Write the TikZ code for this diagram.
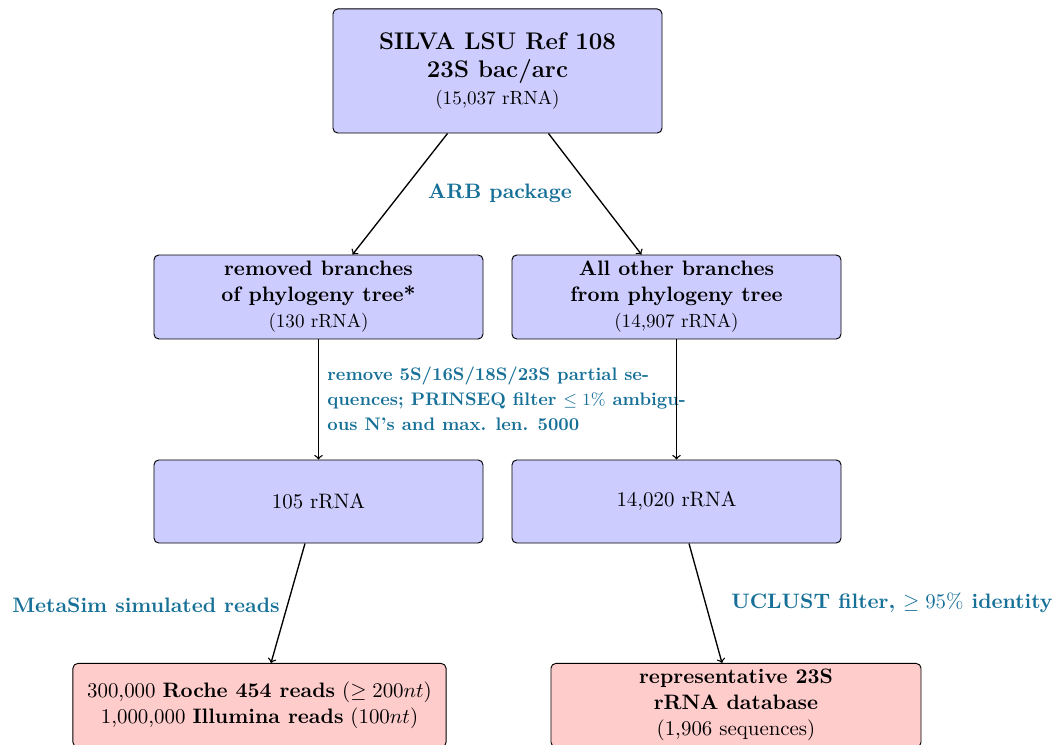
\documentclass[tikz,border=0pt,11pt]{standalone}
\usepackage{amsmath, amssymb}
\usepackage[dvipsnames]{xcolor}
\usepackage{tikz}
\usetikzlibrary{calc}
\definecolor{steplabel}{RGB}{22,112,152}

\begin{document}
\begin{tikzpicture}[x=0.524pt,y=0.524pt,yscale=-1,xscale=1,
  bluebox/.style={draw, fill=blue!20, rounded corners=2.5pt, line width=0.5pt, minimum width=172.4pt, align=center, inner sep=2pt},
  pinkbox/.style={draw, fill=red!20, rounded corners=2.5pt, line width=0.5pt, minimum height=43.8pt, align=center, inner sep=2pt},
  steptext/.style={text=steplabel, font=\bfseries, inner sep=0pt},
  flow/.style={->, line width=0.7pt}]
\useasboundingbox (0,0) rectangle (1059,745);

% Boxes
\node[bluebox, minimum height=65pt, font=\fontsize{12.6}{14.2}\selectfont\bfseries] (silva) at (497.5,71) {SILVA LSU Ref 108\\23S bac/arc\\{\small\mdseries (15,037 rRNA)}};
\node[bluebox, minimum height=44pt, font=\bfseries] (removed) at (318.5,297) {removed branches\\of phylogeny tree*\\{\small\mdseries (130 rRNA)}};
\node[bluebox, minimum height=44pt, font=\bfseries] (others) at (676.5,297) {All other branches\\from phylogeny tree\\{\small\mdseries (14,907 rRNA)}};
\node[bluebox, minimum height=43.5pt] (rnaA) at (318.5,501.5) {105 rRNA};
\node[bluebox, minimum height=43.5pt] (rnaB) at (676.5,501.5) {14,020 rRNA};
\node[pinkbox, minimum width=195.5pt, anchor=north] (reads) at (259.5,663) {300,000 \textbf{Roche 454 reads} ($\geq 200nt$)\\1,000,000 \textbf{Illumina reads} ($100nt$)};
\node[pinkbox, minimum width=193.9pt, anchor=north, font=\bfseries] (repdb) at (736,663) {representative 23S\\rRNA database\\{\mdseries (1,906 sequences)}};

% Step labels
\node[steptext] (arb) at (500,193) {ARB package};
\node[steptext, font=\fontsize{9.5}{13}\selectfont\bfseries, anchor=north west, align=left] (filter) at (327,367) {remove 5S/16S/18S/23S partial se-\\quences; PRINSEQ filter $\leq 1\%$ ambigu-\\ous N's and max. len. 5000};
\node[steptext, anchor=east] (metasim) at (280,605) {MetaSim simulated reads};
\node[steptext, anchor=west] (uclust) at (731,603) {UCLUST filter, $\geq 95\%$ identity};

% Arrows
\draw[flow] ($(silva.south)+(-50,0)$) -- ($(removed.north)+(34,0)$);
\draw[flow] ($(silva.south)+(51,0)$) -- ($(others.north)+(-35,0)$);
\draw[flow] (removed.south) -- (rnaA.north);
\draw[flow] (others.south) -- (rnaB.north);
\draw[flow] ($(rnaA.south)+(-13.5,0)$) -- ($(reads.north)+(11.5,0)$);
\draw[flow] ($(rnaB.south)+(12.5,0)$) -- ($(repdb.north)+(-14,0)$);

\end{tikzpicture}
\end{document}
